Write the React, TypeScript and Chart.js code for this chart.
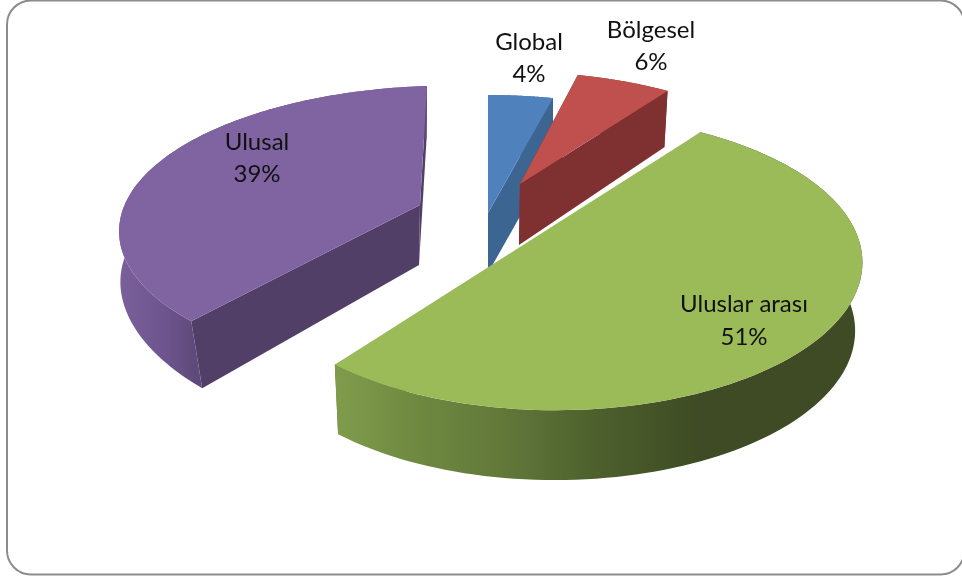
import React, { useEffect, useRef } from "react";
import { Chart, registerables } from "chart.js";

Chart.register(...registerables);

const categories = ["Global", "Bölgesel", "Uluslar arası", "Ulusal"];
const shares = [4, 6, 51, 39];

const topColors = ["#4f81bd", "#c0504d", "#9bbb59", "#8064a2"];
const cutColors = ["#3c6592", "#7e3130", "#5f7a36", "#523f68"];

// Perspective of each pulled-out slice, in pixels around the chart centre:
// shift of the apex, plane scale (a, b), shears (s, t), vanishing terms (k1, k2),
// and the offset and scale of the slice's lower rim.
const sliceViews = [
  { px: 7, py: -77.5, a: 312, b: 141.6, s: 0, t: 0, k1: 0, k2: 0.2, dx: 0, dy: 60, sx: 1, sv: 0, sy: 1 },
  { px: 39, py: -106.5, a: 291, b: 129.5, s: -6, t: 0, k1: 0, k2: 0.156, dx: -1, dy: 61, sx: 0.985, sv: 0, sy: 1.05 },
  { px: 82, py: -63.5, a: 297, b: 139, s: -10, t: 4, k1: 0.03, k2: 0.24, dx: -1.3, dy: 68, sx: 0.98, sv: 0, sy: 1.01 },
  { px: -61, py: -85.5, a: 322, b: 139.5, s: 8.2, t: 0, k1: -0.09, k2: 0.172, dx: -1, dy: 60, sx: 1.004, sv: 0.073, sy: 1.06 },
];

// Outer wall shading, as [pixel offset from apex, colour] stops.
const wallStops = [
  [[0, "#4f81bd"], [1, "#3c6592"]],
  [[0, "#c0504d"], [1, "#7e3130"]],
  [[-228, "#7f9c4b"], [-143, "#6f8840"], [-63, "#62793a"], [37, "#4c5f2c"], [137, "#3e4b24"], [300, "#3e4b24"]],
  [[-305, "#7c609d"], [-260, "#6f5690"], [-225, "#5f4a7b"]],
] as [number, string][][];

const labelAnchors = [
  { x: 48, y: -248.5 },
  { x: 170, y: -260.5 },
  { x: 263, y: 14 },
  { x: -224, y: -148.5 },
];

const BASE_RADIUS = 290.5;

const pie3d = {
  id: "pie3d",
  beforeDraw(chart: Chart) {
    const { ctx, width, height } = chart;
    ctx.save();
    ctx.fillStyle = "#ffffff";
    ctx.fillRect(0, 0, width, height);
    ctx.strokeStyle = "#8c8c8c";
    ctx.lineWidth = 2;
    ctx.beginPath();
    ctx.roundRect(7, 0.5, 957.5, 574, 24);
    ctx.stroke();
    ctx.restore();
  },
  beforeDatasetsDraw(chart: Chart) {
    const { ctx } = chart;
    const arcs = chart.getDatasetMeta(0).data as any[];
    const total = shares.reduce((sum, v) => sum + v, 0);
    const ordered = [0, 1, 3, 2];

    for (const i of ordered) {
      const el = arcs[i];
      const v = sliceViews[i];
      const unit = el.outerRadius / BASE_RADIUS;
      const cx = el.x + v.px * unit;
      const cy = el.y + v.py * unit;
      const start = el.startAngle + Math.PI / 2;
      const end = el.endAngle + Math.PI / 2;

      const top = (angle: number) => {
        const u = Math.sin(angle);
        const w = Math.cos(angle);
        const d = 1 + v.k1 * u + v.k2 * w;
        return { x: ((v.a * u + v.s * w) / d) * unit, y: (-(v.b * w + v.t * u) / d) * unit, w };
      };
      const upper = (angle: number) => {
        const p = top(angle);
        return [cx + p.x, cy + p.y];
      };
      const lower = (angle: number) => {
        const p = top(angle);
        return [cx + v.dx * unit + p.x * (v.sx + v.sv * p.w), cy + v.dy * unit + p.y * v.sy];
      };
      const apexUp = [cx, cy];
      const apexLow = [cx + v.dx * unit, cy + v.dy * unit];
      const steps = 120;
      const angles = Array.from({ length: steps + 1 }, (_, n) => start + ((end - start) * n) / steps);

      const poly = (pts: number[][], fill: string | CanvasGradient) => {
        ctx.beginPath();
        pts.forEach((p, n) => (n ? ctx.lineTo(p[0], p[1]) : ctx.moveTo(p[0], p[1])));
        ctx.closePath();
        ctx.fillStyle = fill;
        ctx.fill();
      };

      // Cut faces first, then the curved wall, then the top face over them.
      poly([apexUp, upper(start), lower(start), apexLow], cutColors[i]);
      poly([apexUp, upper(end), lower(end), apexLow], cutColors[i]);

      const stops = wallStops[i];
      const x0 = cx + stops[0][0] * unit;
      const x1 = cx + stops[stops.length - 1][0] * unit;
      const gradient = ctx.createLinearGradient(x0, 0, x1, 0);
      stops.forEach(([at, color]) => gradient.addColorStop((at - stops[0][0]) / (stops[stops.length - 1][0] - stops[0][0]), color));
      poly([...angles.map(upper), ...[...angles].reverse().map(lower)], gradient);

      // A slice wider than a half turn closes along a straight chord.
      const rim = angles.map(upper);
      poly(end - start >= Math.PI ? rim : [apexUp, ...rim], topColors[i]);
    }

    ctx.save();
    ctx.fillStyle = "#111111";
    ctx.font = "24px Lato";
    ctx.textAlign = "center";
    ctx.textBaseline = "middle";
    categories.forEach((name, i) => {
      const el = arcs[i];
      const unit = el.outerRadius / BASE_RADIUS;
      const x = el.x + labelAnchors[i].x * unit;
      const y = el.y + labelAnchors[i].y * unit;
      ctx.fillText(name, x, y);
      ctx.fillText(`${Math.round((shares[i] / total) * 100)}%`, x, y + 32.5 * unit);
    });
    ctx.restore();
    return false;
  },
};

export default function App() {
  const canvasRef = useRef<HTMLCanvasElement>(null);

  useEffect(() => {
    const chart = new Chart(canvasRef.current!, {
      type: "pie",
      data: {
        labels: categories,
        datasets: [{ data: shares, backgroundColor: topColors, borderWidth: 0 }],
      },
      options: {
        animation: false,
        responsive: false,
        layout: { padding: 0 },
        plugins: { legend: { display: false }, tooltip: { enabled: false } },
      },
      plugins: [pie3d as any],
    });
    return () => chart.destroy();
  }, []);

  return (
    <div style={{ position: "absolute", left: 0, top: 0, width: 962, height: 581, background: "#fff" }}>
      <canvas ref={canvasRef} width={962} height={581} style={{ display: "block" }} />
    </div>
  );
}
